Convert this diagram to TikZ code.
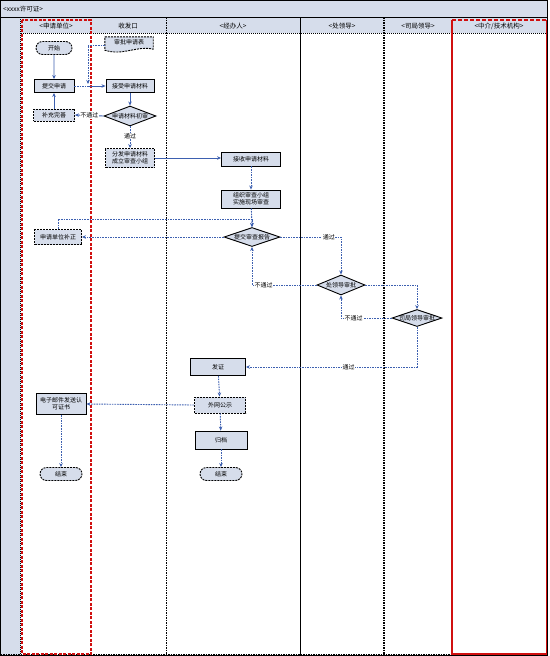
\documentclass[tikz,border=0pt]{standalone}
\usepackage{fontspec}
\newfontfamily\cjk{Noto Sans CJK SC}
\usetikzlibrary{shapes.geometric,shapes.misc,arrows.meta,calc}
\definecolor{hatch}{HTML}{D6DDEB}
\definecolor{conn}{HTML}{3D60B0}
\definecolor{lanered}{HTML}{D01010}
\begin{document}
\begin{tikzpicture}[x=1pt,y=-1pt,
  base/.style={draw=black,line width=0.9pt,fill=hatch,inner sep=0pt,align=center,font=\cjk\fontsize{6}{7}\selectfont},
  proc/.style={base,rectangle},
  procd/.style={base,rectangle,dash pattern=on 2pt off 1pt},
  term/.style={base,rounded rectangle,dash pattern=on 2pt off 1pt},
  dec/.style={base,diamond,aspect=2.6},
  lbl/.style={fill=white,inner sep=0.5pt,font=\cjk\fontsize{6}{7}\selectfont},
  hdr/.style={font=\cjk\fontsize{6.5}{7}\selectfont,inner sep=0pt},
  sline/.style={draw=conn,line width=0.9pt,-{Stealth[length=4pt,width=3.5pt]}},
  dline/.style={draw=conn,line width=0.9pt,dash pattern=on 1.6pt off 1pt,-{Stealth[length=4pt,width=3.5pt]}},
  dlinen/.style={draw=conn,line width=0.9pt,dash pattern=on 1.6pt off 1pt},
]
\useasboundingbox (0,0) rectangle (549,656);
% backgrounds
\fill[hatch] (0,0) rectangle (548,17);
\fill[hatch] (0,17) rectangle (21,655);
\fill[hatch] (21,17) rectangle (547,33);
\draw[black,line width=0.8pt] (0.5,0.5) rectangle (547.5,655);
\draw[black,line width=0.8pt] (0.5,17) -- (547.5,17);
\draw[black,line width=0.8pt,dash pattern=on 1pt off 1pt] (21,33) -- (547,33);
\draw[black,line width=0.8pt,dash pattern=on 1pt off 1pt] (20,17) -- (20,655);
\draw[black,line width=1pt,dash pattern=on 1.5pt off 1pt] (0.5,654.5) -- (547.5,654.5);
% lanes
\draw[black,line width=1pt,dash pattern=on 1.5pt off 1pt] (166,17) -- (166,655);
\draw[black,line width=0.9pt] (300,17) -- (300,655);
\draw[black,line width=1.2pt,dash pattern=on 1.5pt off 1pt] (384,17) -- (384,655);
\draw[lanered,line width=1.2pt,dash pattern=on 3pt off 1.5pt] (22,20) rectangle (91,654);
\draw[lanered,line width=1.2pt] (452,20) -- (452,654) -- (546.5,654) -- (546.5,20);
\draw[lanered,line width=1.2pt,dash pattern=on 4pt off 2pt] (452,20) -- (546.5,20);
% title and headers
\node[hdr,anchor=west] (title) at (3,9) {<xxxx许可证>};
\node[hdr] (h1) at (56,26) {<申请单位>};
\node[hdr] (h2) at (128,26) {收发口};
\node[hdr] (h3) at (233,26) {<经办人>};
\node[hdr] (h4) at (342,26) {<处领导>};
\node[hdr] (h5) at (418,26) {<司局领导>};
\node[hdr] (h6) at (499,26) {<中介/技术机构>};
% nodes
\node[term,minimum width=36pt,minimum height=13pt] (start) at (54,48) {开始};
\node[draw=none,inner sep=0pt,minimum width=48pt,minimum height=14pt] (doc) at (129,44) {};
\draw[base,dash pattern=on 2pt off 1pt] (doc.north west) -- (doc.north east) -- ($(doc.south east)+(0,-2)$)
  .. controls ($(doc.south)+(8,-6)$) and ($(doc.south)+(-6,5)$) .. ($(doc.south west)+(0,-1)$) -- cycle;
\node[font=\cjk\fontsize{6}{7}\selectfont,inner sep=0pt] (doctext) at ($(doc.center)+(0,-1.5)$) {审批申请表};
\node[proc,minimum width=40pt,minimum height=13pt] (tijiao) at (54,86) {提交申请};
\node[proc,minimum width=48pt,minimum height=13pt] (jieshou) at (130,86) {接受申请材料};
\node[procd,minimum width=41pt,minimum height=12pt] (buchong) at (54,115) {补充完善};
\node[dec,minimum width=52pt,minimum height=20pt,label={[font=\cjk\fontsize{6}{7}\selectfont]center:申请材料初审}] (chushen) at (130,116) {};
\node[procd,minimum width=49pt,minimum height=19pt] (fenfa) at (130,158) {分发申请材料\\成立审查小组};
\node[proc,minimum width=59pt,minimum height=14pt] (jieshou2) at (251,159) {接收申请材料};
\node[proc,minimum width=59pt,minimum height=18pt] (zuzhi) at (251,199) {组织审查小组\\实施现场审查};
\node[dec,minimum width=56pt,minimum height=19pt,label={[font=\cjk\fontsize{6}{7}\selectfont]center:提交审查报告}] (tjbg) at (252,237) {};
\node[procd,minimum width=47pt,minimum height=15pt] (buzheng) at (58,237) {申请单位补正};
\node[dec,minimum width=48pt,minimum height=20pt,label={[font=\cjk\fontsize{6}{7}\selectfont]center:处领导审批}] (chu) at (341,285) {};
\node[dec,minimum width=50pt,minimum height=17pt,label={[font=\cjk\fontsize{6}{7}\selectfont]center:司局领导审批}] (si) at (417,318) {};
\node[proc,minimum width=55pt,minimum height=17pt] (fazheng) at (218,367) {发证};
\node[procd,minimum width=51pt,minimum height=16pt] (gongshi) at (220,405) {外网公示};
\node[proc,minimum width=52pt,minimum height=18pt] (guidang) at (221,440) {归档};
\node[term,minimum width=42pt,minimum height=13pt] (end2) at (221,474) {结束};
\node[proc,minimum width=50pt,minimum height=21pt] (email) at (61,404) {电子邮件发送认\\可证书};
\node[term,minimum width=42pt,minimum height=13pt] (end1) at (61,474) {结束};
% connectors
\coordinate (m1) at (88,86);
\coordinate (m2) at (88,45);
\draw[sline] (start) -- (tijiao);
\draw[sline] (buchong) -- (tijiao);
\draw[dlinen] (tijiao.east) -- (m1);
\draw[sline] (m1) -- (jieshou.west);
\draw[dline] (doc.west |- m2) -- (m2) -- ($(m1)+(0,-2)$);
\draw[sline] (jieshou) -- (chushen);
\draw[sline] (chushen.west) -- node[lbl] (l1) {不通过} (buchong.east);
\draw[dline] (chushen.south) -- node[lbl,pos=0.45] (l2) {通过} (fenfa.north);
\draw[sline] (fenfa.east) -- (fenfa.east -| jieshou2.west);
\draw[dline] (jieshou2) -- (zuzhi);
\draw[dline] (zuzhi) -- (tjbg.north);
\coordinate (m3) at (252,219);
\draw[dline] (buzheng.north) |- (m3) -- (tjbg.north);
\draw[dline] (tjbg.west) -- (buzheng.east);
\draw[dline] (tjbg.east) -- node[lbl,pos=0.8] (l3) {通过} (tjbg.east -| chu.north) -- (chu.north);
\draw[dline] (chu.west) -- node[lbl,pos=0.82] (l4) {不通过} (chu.west -| tjbg.south) -- (tjbg.south);
\draw[dline] (chu.east) -| (si.north);
\draw[dline] (si.west) -- node[lbl,pos=0.75] (l5) {不通过} (si.west -| chu.south) -- (chu.south);
\draw[dline] (si.south) |- node[lbl,pos=0.7] (l6) {通过} (fazheng.east);
\draw[dline] (fazheng) -- (gongshi);
\draw[dline] (gongshi.west) -- (email.east);
\draw[dline] (gongshi) -- (guidang);
\draw[dline] (guidang) -- (end2);
\draw[dline] (email) -- (end1);
\end{tikzpicture}
\end{document}
